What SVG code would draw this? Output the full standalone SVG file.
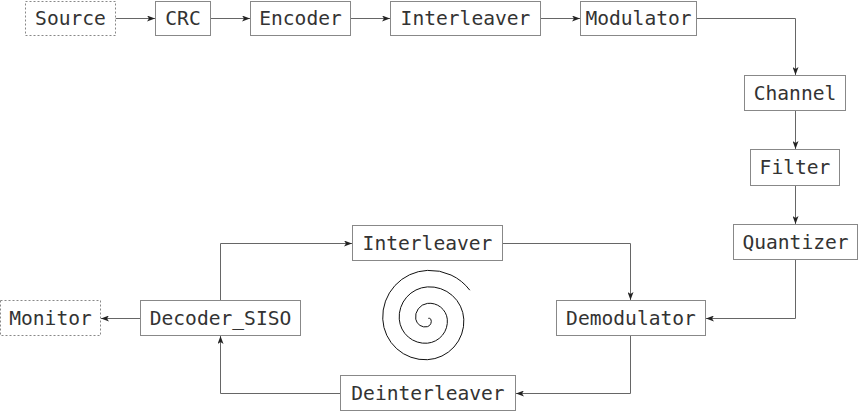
<svg xmlns="http://www.w3.org/2000/svg" width="858" height="411" viewBox="0 0 858 411">
<style>
.box{fill:#fff;stroke:#888;stroke-width:1}
.dash{stroke-dasharray:2 2}
.lbl{font-family:"DejaVu Sans Mono","Liberation Mono",monospace;font-size:19.6px;fill:#333;text-anchor:middle}
.edge{fill:none;stroke:#666;stroke-width:1}
</style>
<defs>
<marker id="ah" viewBox="0 0 8 6" refX="8" refY="3" markerWidth="8" markerHeight="6" markerUnits="userSpaceOnUse" orient="auto">
<path d="M0,0 L8,3 L0,6 L2,3 Z" fill="#222"/>
</marker>
</defs>
<rect width="858" height="411" fill="#fff"/>
<g id="connectors">
<path class="edge" marker-end="url(#ah)" d="M115.5,18.5 H155"/>
<path class="edge" marker-end="url(#ah)" d="M210.5,18.5 H250"/>
<path class="edge" marker-end="url(#ah)" d="M350.5,18.5 H390"/>
<path class="edge" marker-end="url(#ah)" d="M540.5,18.5 H580"/>
<path class="edge" marker-end="url(#ah)" d="M696.5,18.5 H795.5 V75"/>
<path class="edge" marker-end="url(#ah)" d="M795.5,110.5 V149"/>
<path class="edge" marker-end="url(#ah)" d="M795.5,185.5 V224"/>
<path class="edge" marker-end="url(#ah)" d="M795.5,260 V318.5 H706"/>
<path class="edge" marker-end="url(#ah)" d="M630.5,335.5 V393.5 H516"/>
<path class="edge" marker-end="url(#ah)" d="M340.5,393.5 H220.5 V336"/>
<path class="edge" marker-end="url(#ah)" d="M220.5,300.5 V243.5 H352"/>
<path class="edge" marker-end="url(#ah)" d="M502.5,243.5 H630.5 V300"/>
<path class="edge" marker-end="url(#ah)" d="M140.5,318.5 H101"/>
</g>
<g id="source"><rect class="box dash" x="25.5" y="1.5" width="90" height="34"/><text class="lbl" x="70.5" y="25">Source</text></g>
<g id="crc"><rect class="box" x="155.5" y="1.5" width="55" height="34"/><text class="lbl" x="183" y="25">CRC</text></g>
<g id="encoder"><rect class="box" x="250.5" y="1.5" width="100" height="34"/><text class="lbl" x="300.5" y="25">Encoder</text></g>
<g id="interleaver"><rect class="box" x="390.5" y="1.5" width="150" height="34"/><text class="lbl" x="465.5" y="25">Interleaver</text></g>
<g id="modulator"><rect class="box" x="580.5" y="1.5" width="116" height="34"/><text class="lbl" x="638.5" y="25">Modulator</text></g>
<g id="channel"><rect class="box" x="744.5" y="75.5" width="101" height="35"/><text class="lbl" x="795" y="99.5">Channel</text></g>
<g id="filter"><rect class="box" x="750.5" y="149.5" width="89" height="36"/><text class="lbl" x="795" y="174">Filter</text></g>
<g id="quantizer"><rect class="box" x="733.5" y="224.5" width="124" height="35"/><text class="lbl" x="795.5" y="249">Quantizer</text></g>
<g id="demodulator"><rect class="box" x="556.5" y="300.5" width="149" height="35"/><text class="lbl" x="631" y="325">Demodulator</text></g>
<g id="interleaver2"><rect class="box" x="352.5" y="225.5" width="150" height="35"/><text class="lbl" x="427.5" y="250">Interleaver</text></g>
<g id="deinterleaver"><rect class="box" x="340.5" y="375.5" width="175" height="35"/><text class="lbl" x="428" y="400">Deinterleaver</text></g>
<g id="decoder_siso"><rect class="box" x="140.5" y="300.5" width="160" height="35"/><text class="lbl" x="220.5" y="325">Decoder_SISO</text></g>
<g id="monitor"><rect class="box dash" x="0.5" y="300.5" width="100" height="35"/><text class="lbl" x="50.5" y="325">Monitor</text></g>
<path id="spiral" fill="none" stroke="#111" stroke-width="1" d="M428.3,318.3 A2.5,2.5 0 0 1 430.8,319.2 A5.5,5.5 0 0 1 427.4,326.7 A9.6,9.6 0 0 1 415.75,319.2 A13.7,13.7 0 0 1 427.4,303.4 A17.8,17.8 0 0 1 447.3,319.2 A22,22 0 0 1 427.4,343.2 A26.1,26.1 0 0 1 399.25,319.2 A30.2,30.2 0 0 1 427.4,286.9 A34.3,34.3 0 0 1 463.8,319.2 A38.5,38.5 0 0 1 427.4,359.7 A42.6,42.6 0 0 1 382.75,319.2 A46.7,46.7 0 0 1 427.4,270.4 A50,50 0 0 1 469.8,290.2"/>
</svg>
